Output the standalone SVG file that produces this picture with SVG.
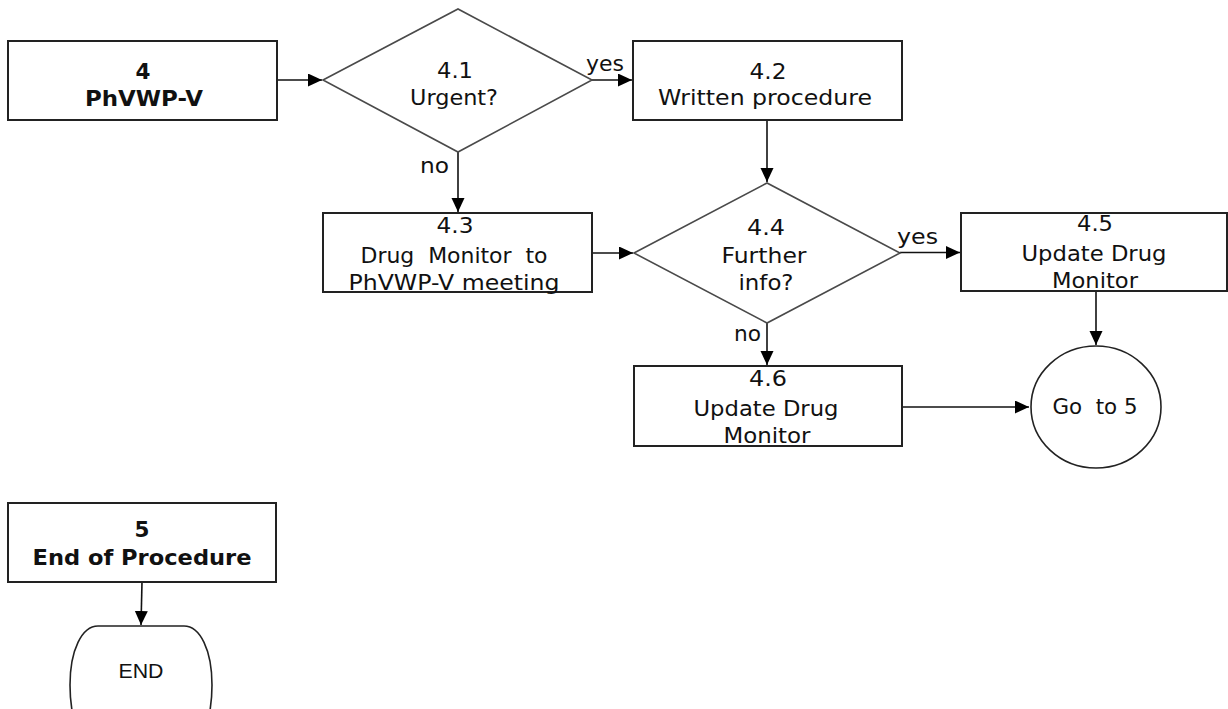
<svg xmlns="http://www.w3.org/2000/svg" width="1228" height="709" viewBox="0 0 1228 709">
<style>
.box{fill:#fff;stroke:#222;stroke-width:2}
.dia{fill:#fff;stroke:#4a4a4a;stroke-width:1.6}
.t{font-family:"DejaVu Sans",Verdana,sans-serif;font-size:21.5px;fill:#111;text-anchor:middle}
.b{font-weight:bold}
.lbl{font-family:"DejaVu Sans",Verdana,sans-serif;font-size:21.5px;fill:#111}
.end{font-family:"Liberation Sans",Arial,sans-serif;font-size:21px;fill:#111;text-anchor:middle}
.c{fill:none;stroke:#111;stroke-width:1.6}
</style>
<defs>
<marker id="ah" markerUnits="userSpaceOnUse" markerWidth="15" markerHeight="14" refX="14" refY="6.5" orient="auto">
<path d="M0,0 L14,6.5 L0,13 z" fill="#000"/>
</marker>
</defs>
<rect width="1228" height="709" fill="#fff"/>
<g id="connectors">
<line class="c" x1="277" y1="80" x2="322" y2="80" marker-end="url(#ah)"/>
<line class="c" x1="592" y1="80" x2="632" y2="80" marker-end="url(#ah)"/>
<line class="c" x1="767" y1="120" x2="767" y2="182" marker-end="url(#ah)"/>
<line class="c" x1="458" y1="152" x2="458" y2="212" marker-end="url(#ah)"/>
<line class="c" x1="592" y1="253" x2="633" y2="253" marker-end="url(#ah)"/>
<line class="c" x1="900" y1="252.5" x2="960" y2="252.5" marker-end="url(#ah)"/>
<line class="c" x1="767" y1="323" x2="767" y2="365" marker-end="url(#ah)"/>
<line class="c" x1="1096" y1="291" x2="1096" y2="345" marker-end="url(#ah)"/>
<line class="c" x1="902" y1="407" x2="1029" y2="407" marker-end="url(#ah)"/>
<line class="c" x1="142" y1="582" x2="141" y2="625" marker-end="url(#ah)"/>
<text class="lbl" x="586" y="71" textLength="38" lengthAdjust="spacingAndGlyphs">yes</text>
<text class="lbl" x="420" y="173" textLength="29" lengthAdjust="spacingAndGlyphs">no</text>
<text class="lbl" x="897" y="244" textLength="41" lengthAdjust="spacingAndGlyphs">yes</text>
<text class="lbl" x="734" y="341" textLength="27" lengthAdjust="spacingAndGlyphs">no</text>
</g>
<g id="n4">
<rect class="box" x="8" y="41" width="269" height="79"/>
<text class="t b" x="143" y="79">4</text>
<text class="t b" x="144" y="106" textLength="118" lengthAdjust="spacingAndGlyphs">PhVWP-V</text>
</g>
<g id="n4_1">
<polygon class="dia" points="323,80 458,9 592,80 458,152"/>
<text class="t" x="455" y="78" textLength="36" lengthAdjust="spacingAndGlyphs">4.1</text>
<text class="t" x="454" y="105" textLength="88" lengthAdjust="spacingAndGlyphs">Urgent?</text>
</g>
<g id="n4_2">
<rect class="box" x="633" y="41" width="269" height="79"/>
<text class="t" x="768" y="79" textLength="37" lengthAdjust="spacingAndGlyphs">4.2</text>
<text class="t" x="765" y="105" textLength="214" lengthAdjust="spacingAndGlyphs">Written procedure</text>
</g>
<g id="n4_3">
<rect class="box" x="323" y="213" width="269" height="79"/>
<text class="t" x="455" y="233" textLength="37" lengthAdjust="spacingAndGlyphs">4.3</text>
<text class="t" x="454" y="263" textLength="187" lengthAdjust="spacingAndGlyphs" xml:space="preserve">Drug  Monitor  to</text>
<text class="t" x="454" y="290" textLength="211" lengthAdjust="spacingAndGlyphs">PhVWP-V meeting</text>
</g>
<g id="n4_4">
<polygon class="dia" points="634,253 767,183 900,253 767,323"/>
<text class="t" x="766" y="235" textLength="38" lengthAdjust="spacingAndGlyphs">4.4</text>
<text class="t" x="764" y="263" textLength="85" lengthAdjust="spacingAndGlyphs">Further</text>
<text class="t" x="766" y="290" textLength="55" lengthAdjust="spacingAndGlyphs">info?</text>
</g>
<g id="n4_5">
<rect class="box" x="961" y="213" width="266" height="78"/>
<text class="t" x="1095" y="231" textLength="36" lengthAdjust="spacingAndGlyphs">4.5</text>
<text class="t" x="1094" y="261" textLength="145" lengthAdjust="spacingAndGlyphs">Update Drug</text>
<text class="t" x="1095" y="288" textLength="86" lengthAdjust="spacingAndGlyphs">Monitor</text>
</g>
<g id="n4_6">
<rect class="box" x="634" y="366" width="268" height="80"/>
<text class="t" x="768" y="386" textLength="38" lengthAdjust="spacingAndGlyphs">4.6</text>
<text class="t" x="766" y="416" textLength="145" lengthAdjust="spacingAndGlyphs">Update Drug</text>
<text class="t" x="767" y="443" textLength="87" lengthAdjust="spacingAndGlyphs">Monitor</text>
</g>
<g id="goto5">
<ellipse cx="1096" cy="407" rx="65" ry="61" fill="#fff" stroke="#222" stroke-width="1.6"/>
<text class="t" x="1095" y="414" textLength="85" lengthAdjust="spacingAndGlyphs" xml:space="preserve">Go  to 5</text>
</g>
<g id="n5">
<rect class="box" x="8" y="503" width="268" height="79"/>
<text class="t b" x="142" y="537">5</text>
<text class="t b" x="142" y="565" textLength="219" lengthAdjust="spacingAndGlyphs">End of Procedure</text>
</g>
<g id="end">
<path d="M98,626 H184 C200,626 212,650 212,685 C212,700 210,712 208,720 H74 C72,712 70,700 70,685 C70,650 82,626 98,626 Z" fill="#fff" stroke="#222" stroke-width="1.6"/>
<text class="end" x="141" y="678" textLength="45" lengthAdjust="spacingAndGlyphs">END</text>
</g>
</svg>
